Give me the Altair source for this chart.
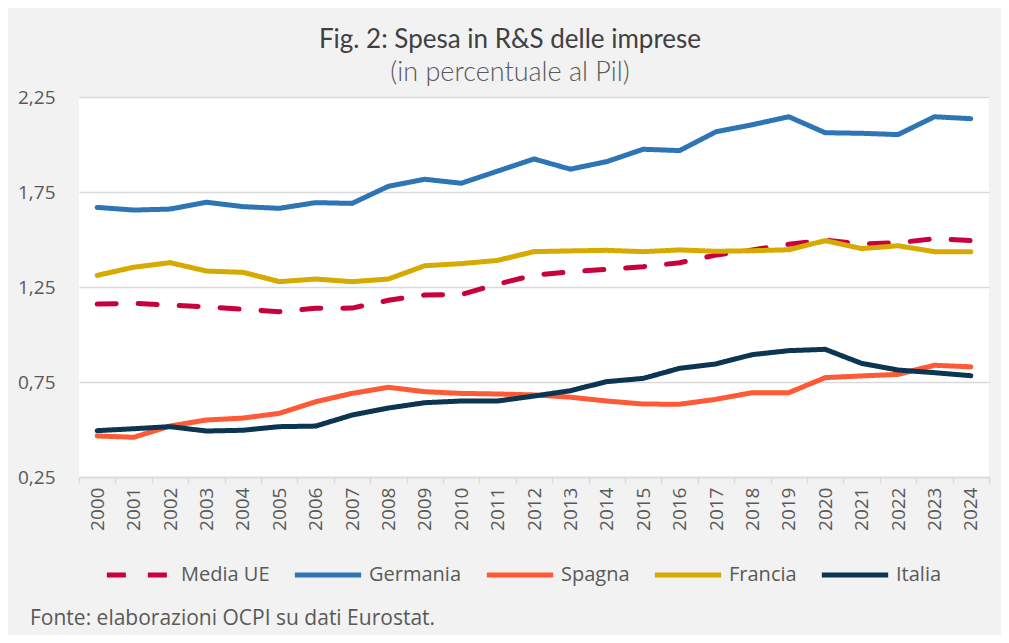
import altair as alt
import pandas as pd

years = [str(y) for y in range(2000, 2025)]
series = ["Media UE", "Germania", "Spagna", "Francia", "Italia"]
colors = ["#c8003c", "#2e75b6", "#ff5a36", "#d6aa00", "#0b3550"]

media_ue = [1.16, 1.164, 1.154, 1.146, 1.133, 1.12, 1.138, 1.139, 1.18, 1.208,
            1.21, 1.265, 1.313, 1.33, 1.343, 1.357, 1.378, 1.418, 1.445, 1.475,
            1.497, 1.476, 1.483, 1.504, 1.494]
germania = [1.669, 1.655, 1.66, 1.696, 1.673, 1.664, 1.694, 1.69, 1.78, 1.817,
            1.796, 1.86, 1.924, 1.87, 1.91, 1.975, 1.968, 2.067, 2.104, 2.146,
            2.062, 2.059, 2.052, 2.146, 2.136]
spagna = [0.466, 0.459, 0.518, 0.55, 0.56, 0.585, 0.646, 0.69, 0.722, 0.699,
          0.69, 0.687, 0.682, 0.67, 0.65, 0.634, 0.633, 0.659, 0.694, 0.694,
          0.773, 0.782, 0.79, 0.838, 0.83]
francia = [1.311, 1.354, 1.378, 1.334, 1.327, 1.278, 1.292, 1.278, 1.292, 1.362,
           1.373, 1.39, 1.436, 1.44, 1.443, 1.436, 1.445, 1.438, 1.441, 1.446,
           1.494, 1.452, 1.467, 1.436, 1.436]
italia = [0.494, 0.504, 0.515, 0.492, 0.496, 0.515, 0.518, 0.576, 0.613, 0.641,
          0.65, 0.65, 0.676, 0.704, 0.752, 0.769, 0.822, 0.845, 0.894, 0.915,
          0.922, 0.848, 0.813, 0.799, 0.783]

y_ticks = [0.25, 0.75, 1.25, 1.75, 2.25]
title_text = "Fig. 2: Spesa in R&S delle imprese"
subtitle_text = "(in percentuale al Pil)"
footnote = "Fonte: elaborazioni OCPI su dati Eurostat."

values = [media_ue, germania, spagna, francia, italia]
rows = []
for s, vals in zip(series, values):
    for yr, v in zip(years, vals):
        rows.append({"anno": yr, "serie": s, "valore": v})
df = pd.DataFrame(rows)

FONT = "Open Sans"
GREY = "#595959"

legend_kw = dict(title=None, orient="none", direction="horizontal",
                 legendX=25, legendY=442, symbolType="stroke",
                 symbolSize=4400, symbolStrokeWidth=5,
                 labelFont=FONT, labelFontSize=20, labelColor=GREY,
                 columnPadding=14, labelOffset=5)

lines = alt.Chart(df).mark_line(strokeWidth=5, strokeCap="round", strokeJoin="round").encode(
    x=alt.X("anno:N", sort=years, title=None,
            scale=alt.Scale(paddingInner=0, paddingOuter=0),
            axis=alt.Axis(labelAngle=-90, labelFont=FONT, labelFontSize=19, labelColor=GREY,
                          domainColor="#d9d9d9", domainWidth=1.5, tickColor="#d9d9d9",
                          tickWidth=1.5, tickSize=6, tickBand="extent", labelPadding=4,
                          grid=False)),
    y=alt.Y("valore:Q", title=None,
            scale=alt.Scale(domain=[0.25, 2.25], nice=False, zero=False),
            axis=alt.Axis(values=y_ticks, labelExpr="replace(format(datum.value, '.2f'), '.', ',')",
                          labelFont=FONT, labelFontSize=19, labelColor=GREY, ticks=False,
                          domain=False, labelPadding=24, gridColor="#d9d9d9", gridWidth=1.5)),
    color=alt.Color("serie:N", sort=series, scale=alt.Scale(domain=series, range=colors),
                    legend=alt.Legend(**legend_kw)),
    strokeDash=alt.StrokeDash("serie:N", sort=series,
                              scale=alt.Scale(domain=series,
                                              range=[[19, 22], [1, 0], [1, 0], [1, 0], [1, 0]]),
                              legend=alt.Legend(**legend_kw)),
    order=alt.Order("anno:N"),
)

foot = alt.Chart(pd.DataFrame({"t": [footnote]})).mark_text(
    align="left", baseline="middle", font=FONT, fontSize=21, color=GREY
).encode(text="t:N", x=alt.value(-49), y=alt.value(522))

chart = alt.layer(lines, foot).properties(
    width=910, height=380,
    autosize=alt.AutoSizeParams(type="none"),
    padding={"left": 71, "top": 89, "right": 12, "bottom": 158},
    background="#f2f2f2",
    title=alt.TitleParams(text=title_text, subtitle=subtitle_text, anchor="middle",
                          font="Lato", fontSize=26, fontWeight="normal", color="#404040",
                          subtitleFont="Lato", subtitleFontSize=27, subtitleFontWeight=300,
                          subtitleColor=GREY, subtitlePadding=7, offset=2, dx=-24),
).configure_view(fill="white", stroke=None)

chart.save("out.html", embed_options={"renderer": "svg", "actions": False})
